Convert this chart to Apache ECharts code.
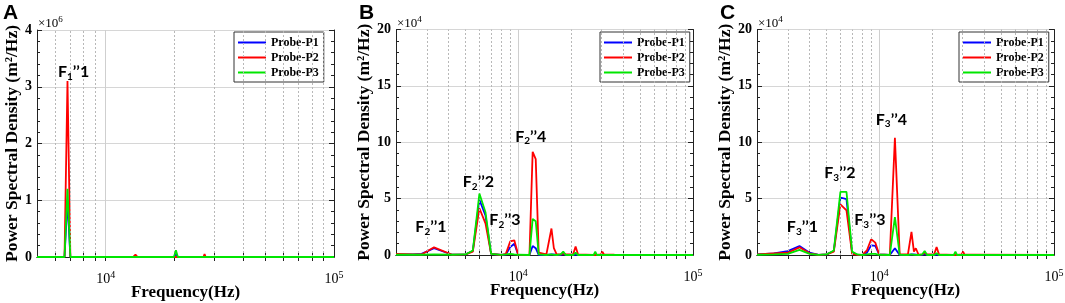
<!DOCTYPE html>
<html>
<head>
<meta charset="utf-8">
<script src="https://cdn.jsdelivr.net/npm/echarts@6/dist/echarts.min.js"></script>
<style>
  html, body { margin: 0; padding: 0; background: #fff; }
  #psd { width: 1065px; height: 303px; }
</style>
</head>
<body>
<div id="psd"></div>
<script>
// ---- panel A (values x10^6 m^2/Hz) ----
const freqA = [5000, 6600, 6800, 7000, 13200, 13500, 13800, 19900, 20300, 20700, 26800, 27100, 27400, 100000]
const probe1A = [0, 0, 1.0, 0, 0, 0, 0, 0, 0.05, 0, 0, 0, 0, 0]
const probe2A = [0, 0, 3.1, 0, 0, 0.04, 0, 0, 0.03, 0, 0, 0.05, 0, 0]
const probe3A = [0, 0, 1.2, 0, 0, 0, 0, 0, 0.12, 0, 0, 0.01, 0, 0]

// ---- panel B (values x10^4 m^2/Hz) ----
const freqB = [2000, 2500, 2800, 3300, 4200, 5000, 5500, 6000, 6500, 7000, 8000, 8500, 9000, 9500, 10000,
  11600, 12100, 12600, 13100, 14500, 15500, 16000, 16600, 17500, 18100, 18700, 20600, 21300, 22000,
  27000, 27600, 28200, 29700, 30300, 31000, 32800, 33400, 34000, 35500, 36200, 37000, 100000]
const probe1B = [0.05, 0.05, 0.1, 0.6, 0.02, 0.05, 0.35, 4.9, 3.5, 0.1, 0, 0.05, 0.7, 1.0, 0.02,
  0, 0.8, 0.6, 0.02, 0, 0.05, 0.05, 0, 0, 0.1, 0, 0, 0.05, 0,
  0, 0.05, 0, 0, 0, 0, 0, 0, 0, 0, 0, 0, 0]
const probe2B = [0.1, 0.05, 0.05, 0.68, 0.02, 0.05, 0.3, 4.15, 2.8, 0.1, 0, 0.1, 1.2, 1.3, 0.02,
  0, 9.15, 8.5, 0.2, 0.05, 2.35, 0.6, 0.05, 0.05, 0.15, 0.05, 0.05, 0.75, 0.05,
  0, 0.1, 0, 0.05, 0.3, 0.02, 0.02, 0.15, 0.02, 0.02, 0.1, 0, 0]
const probe3B = [0.02, 0.02, 0.02, 0.05, 0.02, 0.05, 0.4, 5.45, 3.8, 0.1, 0.02, 0.05, 0.1, 0.05, 0.02,
  0, 3.2, 3.0, 0.05, 0, 0.05, 0.02, 0, 0.05, 0.3, 0, 0, 0.2, 0,
  0, 0.3, 0, 0, 0.02, 0, 0, 0, 0, 0, 0, 0, 0]

// ---- panel C (values x10^4 m^2/Hz) ----
const freqC = [2000, 2500, 3000, 3500, 4000, 4500, 5000, 5500, 6000, 6500, 7000, 7500, 8000, 8500, 9000, 9500, 10000,
  11500, 12300, 13100, 14600, 15300, 15800, 16200, 16800, 17600, 18200, 18800, 20600, 21300, 22000,
  26700, 27300, 27900, 29600, 30200, 30800, 32800, 33400, 34000, 100000]
const probe1C = [0.05, 0.15, 0.35, 0.8, 0.2, 0.02, 0.05, 0.35, 5.1, 4.95, 0.2, 0.02, 0, 0.2, 0.85, 0.8, 0.05,
  0, 0.6, 0, 0, 0.05, 0.05, 0, 0, 0, 0.1, 0, 0, 0.05, 0,
  0, 0.05, 0, 0, 0, 0, 0, 0, 0, 0]
const probe2C = [0.05, 0.15, 0.2, 0.68, 0.15, 0.02, 0.05, 0.3, 4.5, 3.95, 0.1, 0.02, 0, 0.4, 1.4, 1.1, 0.05,
  0, 10.4, 0.05, 0.05, 2.05, 0.3, 0.6, 0.02, 0.05, 0.2, 0.05, 0.05, 0.7, 0.05,
  0, 0.1, 0, 0.05, 0.3, 0.02, 0.02, 0.12, 0.02, 0]
const probe3C = [0.02, 0.05, 0.1, 0.45, 0.1, 0.02, 0.05, 0.4, 5.6, 5.6, 0.3, 0.05, 0, 0.05, 0.1, 0.1, 0.02,
  0, 3.35, 0.02, 0, 0.05, 0.02, 0.02, 0, 0.05, 0.35, 0, 0, 0.15, 0,
  0, 0.3, 0, 0, 0.02, 0, 0, 0, 0, 0]

// peak annotations: [freq, value, subscript, peak no.]
const notesA = [[7230, 3.26, '1', '1']]
const notesB = [[3170, 2.49, '2', '1'], [5920, 6.49, '2', '2'], [8400, 3.11, '2', '3'], [11800, 10.5, '2', '4']]
const notesC = [[3640, 2.49, '3', '1'], [5960, 7.29, '3', '2'], [8850, 3.11, '3', '3'], [11740, 12.0, '3', '4']]

// x tick / dotted grid positions
const xTicksA = [6000, 7000, 8000, 9000, 10000, 20000, 30000, 40000, 50000, 60000, 70000, 80000, 90000]
const xTicksBC = [3000, 4000, 5000, 6000, 7000, 8000, 9000, 10000, 20000, 30000, 40000, 50000, 60000, 70000, 80000, 90000]
const xLabels = [10000, 100000]

const probeNames = ['Probe-P1', 'Probe-P2', 'Probe-P3']
const probeColors = ['#0000ff', '#ff0000', '#00e600']

const panels = [
  { tag: 'A', left: 37, top: 30, width: 297, height: 227, xMin: 5000, yMax: 4, yStep: 1, exp: '6',
    freq: freqA, vals: [probe1A, probe2A, probe3A], notes: notesA, ticks: xTicksA, legendLeft: 234 },
  { tag: 'B', left: 396, top: 29.5, width: 297, height: 225.5, xMin: 2000, yMax: 20, yStep: 5, exp: '4',
    freq: freqB, vals: [probe1B, probe2B, probe3B], notes: notesB, ticks: xTicksBC, legendLeft: 600 },
  { tag: 'C', left: 757, top: 29.5, width: 297, height: 225.5, xMin: 2000, yMax: 20, yStep: 5, exp: '4',
    freq: freqC, vals: [probe1C, probe2C, probe3C], notes: notesC, ticks: xTicksBC, legendLeft: 959 }
]

const serif = 'Liberation Serif'
const frame = '#222'

const grid = []
const xAxis = []
const yAxis = []
const series = []
const legend = []
const graphic = []

panels.forEach((p, i) => {
  grid.push({ left: p.left, top: p.top, width: p.width, height: p.height, outerBoundsMode: 'none', containLabel: false })

  // bottom x axis
  xAxis.push({
    type: 'log', logBase: 10, gridIndex: i, min: p.xMin, max: 100000,
    name: 'Frequency(Hz)', nameLocation: 'middle', nameGap: 27, nameMoveOverlap: false,
    nameTextStyle: { fontFamily: serif, fontWeight: 'bold', fontSize: 17, color: '#000' },
    axisLine: { lineStyle: { color: frame, width: 1 } },
    axisTick: { inside: true, length: 4, customValues: p.ticks, lineStyle: { color: frame } },
    axisLabel: {
      customValues: xLabels, margin: 13, color: '#000', fontFamily: serif, fontSize: 14,
      formatter: v => '10{sup|' + Math.round(Math.log10(v)) + '}',
      rich: { sup: { fontSize: 10, fontFamily: serif, padding: [0, 0, 9, 0] } }
    },
    splitLine: { show: false }
  })

  // left y axis
  yAxis.push({
    type: 'value', gridIndex: i, min: 0, max: p.yMax, interval: p.yStep,
    name: 'Power Spectral Density (m²/Hz)', nameLocation: 'middle', nameGap: 16,
    nameTextStyle: { fontFamily: serif, fontWeight: 'bold', fontSize: 17.5, color: '#000' },
    axisLine: { show: true, lineStyle: { color: frame, width: 1 } },
    axisTick: { show: true, inside: true, length: 5, lineStyle: { color: frame } },
    minorTick: { show: true, splitNumber: 5, length: 3, lineStyle: { color: frame } },
    axisLabel: { margin: 5, color: '#000', fontFamily: serif, fontWeight: 'bold', fontSize: 14 },
    splitLine: { show: true, lineStyle: { color: '#d6d6d6', width: 1 } }
  })

  // multiplier + panel tag
  graphic.push({
    type: 'text', left: p.left + 1, top: 15,
    style: {
      text: '×10{s|' + p.exp + '}', fontFamily: serif, fontSize: 13, fill: '#000',
      rich: { s: { fontSize: 9, fontFamily: serif, padding: [0, 0, 8, 0] } }
    }
  })
  graphic.push({
    type: 'text', left: p.left - 34 + (i === 0 ? 0 : -3), top: 3,
    style: { text: p.tag, fontFamily: 'Liberation Sans', fontWeight: 'bold', fontSize: 21, fill: '#000' }
  })

  // legend for this panel
  legend.push({
    data: probeNames, orient: 'vertical', left: p.legendLeft, top: 32,
    backgroundColor: '#fff', borderColor: '#333', borderWidth: 1, borderRadius: 0,
    padding: [4, 5, 3, 4], itemGap: 2, itemWidth: 28, itemHeight: 2, icon: 'rect',
    selectedMode: false,
    textStyle: { fontFamily: serif, fontWeight: 'bold', fontSize: 12, lineHeight: 13, color: '#000' }
  })
})

// top x axes and right y axes (box with inward ticks)
panels.forEach((p, i) => {
  xAxis.push({
    type: 'log', logBase: 10, gridIndex: i, position: 'top', min: p.xMin, max: 100000,
    axisLine: { lineStyle: { color: frame, width: 1 } },
    axisTick: { inside: true, length: 4, customValues: p.ticks, lineStyle: { color: frame } },
    axisLabel: { show: false },
    splitLine: { show: false }
  })
  yAxis.push({
    type: 'value', gridIndex: i, position: 'right', min: 0, max: p.yMax, interval: p.yStep,
    axisLine: { show: true, lineStyle: { color: frame, width: 1 } },
    axisTick: { show: true, inside: true, length: 5, lineStyle: { color: frame } },
    minorTick: { show: true, splitNumber: 5, length: 3, lineStyle: { color: frame } },
    axisLabel: { show: false },
    splitLine: { show: false }
  })
})

panels.forEach((p, i) => {
  // vertical grid lines: solid at decades, dotted in between
  series.push({
    name: 'grid' + i, type: 'line', xAxisIndex: i, yAxisIndex: i, data: [], z: 1, silent: true,
    markLine: {
      silent: true, symbol: 'none', label: { show: false }, animation: false,
      lineStyle: { type: [2, 2], color: '#b8b8b8', width: 1 },
      data: p.ticks.map(v => v === 10000
        ? { xAxis: v, lineStyle: { type: 'solid', color: '#cfcfcf', width: 1 } }
        : { xAxis: v })
    }
  })

  p.vals.forEach((vals, k) => {
    const s = {
      name: probeNames[k], type: 'line', xAxisIndex: i, yAxisIndex: i, z: 3 + k,
      data: p.freq.map((f, j) => [f, vals[j]]),
      showSymbol: false, symbol: 'none', animation: false,
      lineStyle: { color: probeColors[k], width: 1.8 },
      itemStyle: { color: probeColors[k] }
    }
    if (k === 2) {
      s.markPoint = {
        symbol: 'circle', symbolSize: 1, itemStyle: { color: 'rgba(0,0,0,0)' }, animation: false,
        label: {
          show: true, position: 'inside', color: '#000', formatter: m => m.name,
          rich: {
            f: { fontFamily: 'Lato', fontWeight: 'bold', fontSize: 16, color: '#000' },
            s: { fontFamily: 'Lato', fontWeight: 'bold', fontSize: 10, color: '#000', padding: [9, 0, 0, 0] }
          }
        },
        data: p.notes.map(n => ({
          coord: [n[0], n[1]],
          name: '{f|F}{s|' + n[2] + '}{f|\u2019\u2019' + n[3] + '}'
        }))
      }
    }
    series.push(s)
  })
})

const chart = echarts.init(document.getElementById('psd'))
chart.setOption({
  backgroundColor: '#fff',
  animation: false,
  grid: grid,
  xAxis: xAxis,
  yAxis: yAxis,
  legend: legend,
  graphic: graphic,
  series: series
})
window.onresize = () => {
  chart.resize()
}
</script>
</body>
</html>
